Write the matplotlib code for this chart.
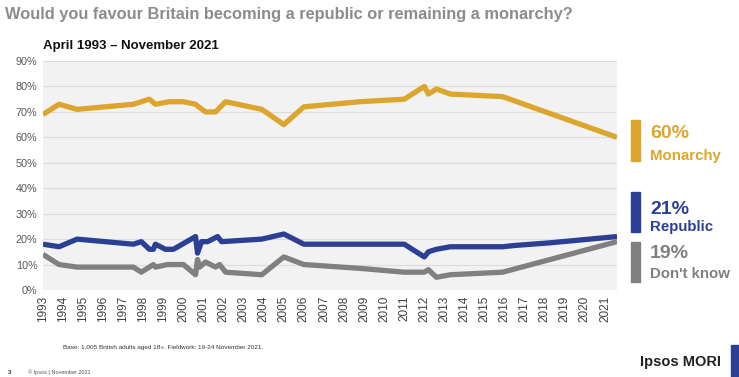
import matplotlib.pyplot as plt
from matplotlib.patches import Rectangle

# survey dates (fractional years) and shares in %
mon_x = [1993.0, 1993.8, 1994.7, 1997.5, 1998.3, 1998.6, 1999.3, 2000.0, 2000.6, 2000.75,
         2001.1, 2001.6, 2002.1, 2003.9, 2005.0, 2006.0, 2008.8, 2011.0, 2012.0, 2012.2,
         2012.6, 2013.3, 2015.9, 2021.6]
mon_y = [69, 73, 71, 73, 75, 73, 74, 74, 73, 72,
         70, 70, 74, 71, 65, 72, 74, 75, 80, 77,
         79, 77, 76, 60]

rep_x = [1993.0, 1993.8, 1994.7, 1997.5, 1997.9, 1998.3, 1998.5, 1998.6, 1999.1, 1999.5,
         2000.6, 2000.7, 2000.9, 2001.2, 2001.7, 2001.9, 2003.9, 2005.0, 2006.0, 2011.0,
         2012.0, 2012.2, 2012.6, 2013.3, 2015.9, 2016.5, 2018.2, 2021.6]
rep_y = [18, 17, 20, 18, 19, 16, 16, 18, 16, 16,
         21, 14.5, 19, 19, 21, 19, 20, 22, 18, 18,
         13, 15, 16, 17, 17, 17.5, 18.5, 21]

dk_x = [1993.0, 1993.8, 1994.7, 1997.5, 1997.9, 1998.5, 1998.6, 1999.2, 2000.0, 2000.6,
        2000.7, 2000.8, 2001.1, 2001.6, 2001.8, 2002.1, 2003.9, 2005.0, 2006.0, 2008.8,
        2011.0, 2012.0, 2012.2, 2012.6, 2013.3, 2015.9, 2021.6]
dk_y = [14, 10, 9, 9, 7, 10, 9, 10, 10, 6,
        12, 9, 11, 9, 10, 7, 6, 13, 10, 8.5,
        7, 7, 8, 5, 6, 7, 19]

years = list(range(1993, 2022))
yticks = list(range(0, 91, 10))

labels = ["Monarchy", "Republic", "Don't know"]
latest = ["60%", "21%", "19%"]
colors = ["#dca52d", "#2b3f94", "#808080"]

plt.rcParams['font.family'] = ['Liberation Sans', 'DejaVu Sans']

fig = plt.figure(figsize=(7.39, 3.77), dpi=100)
ax = fig.add_axes([43 / 739, 1 - 290 / 377, (617 - 43) / 739, (290 - 61) / 377])
ax.set_facecolor("#f2f2f2")

for xs, ys, c in zip([mon_x, rep_x, dk_x], [mon_y, rep_y, dk_y], colors):
  ax.plot(xs, ys, color=c, lw=3.8, solid_joinstyle='round', solid_capstyle='butt', zorder=3)

ax.set_xlim(1993, 2021.6)
ax.set_ylim(0, 90)
ax.set_yticks(yticks)
ax.set_yticklabels([f"{v}%" for v in yticks], fontsize=7.8, color="#595959")
ax.set_xticks(years)
ax.set_xticklabels([str(y) for y in years], rotation=90, fontsize=8.5, color="#404040")
ax.tick_params(length=0, pad=4)
ax.grid(axis='y', color="#dcdcdc", lw=0.8)
for s in ax.spines.values():
  s.set_visible(False)

# titles
fig.text(5 / 739, 1 - 14 / 377, "Would you favour Britain becoming a republic or remaining a monarchy?",
         fontsize=11.8, fontweight='bold', color="#8c8c8c", va='center')
fig.text(43 / 739, 1 - 46 / 377, "April 1993 \u2013 November 2021",
         fontsize=9.5, fontweight='bold', color="#111111", va='center')

# right hand labels
bars = [(120, 161), (192, 232), (242, 282)]
pct_y = [133, 209, 253]
lab_y = [156, 227, 274]
for (t, b), c, p, l, py, ly in zip(bars, colors, latest, labels, pct_y, lab_y):
  fig.patches.append(Rectangle((631 / 739, 1 - b / 377), 9 / 739, (b - t) / 377,
                               transform=fig.transFigure, color=c))
  fig.text(650 / 739, 1 - py / 377, p, fontsize=14, fontweight='bold', color=c, va='center')
  fig.text(650 / 739, 1 - ly / 377, l, fontsize=10.8, fontweight='bold', color=c, va='center')

# footer
fig.text(63 / 739, 1 - 348 / 377, "Base: 1,005 British adults aged 18+. Fieldwork: 19-24 November 2021.",
         fontsize=4.6, color="#333333", va='center')
fig.text(8 / 739, 1 - 372 / 377, "3", fontsize=4.5, fontweight='bold', color="#333333", va='center')
fig.text(28 / 739, 1 - 372 / 377, "\u00a9 Ipsos | November 2021", fontsize=4, color="#555555", va='center')
fig.text(640 / 739, 1 - 362 / 377, "Ipsos MORI", fontsize=10.5, fontweight='bold', color="#222222", va='center')
fig.patches.append(Rectangle((731 / 739, 0), 8 / 739, 32 / 377,
                             transform=fig.transFigure, color="#2b3f94"))

fig.savefig("out.png", dpi=100)
